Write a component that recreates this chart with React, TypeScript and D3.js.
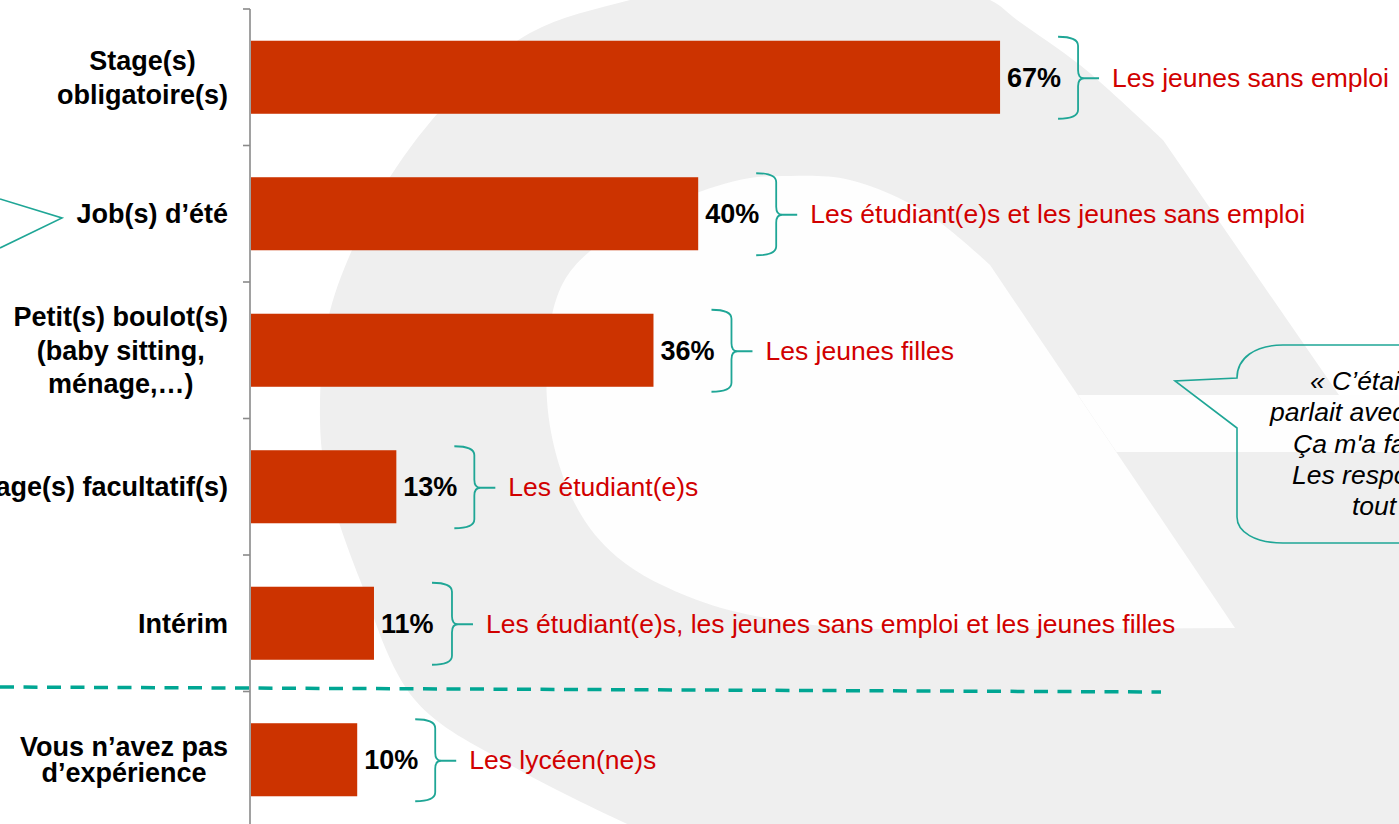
import React, { useEffect, useRef } from "react";
import * as d3 from "d3";

// ---------- data ----------
const categories = [
  "Stage(s) obligatoire(s)",
  "Job(s) d’été",
  "Petit(s) boulot(s) (baby sitting, ménage,…)",
  "Stage(s) facultatif(s)",
  "Intérim",
  "Vous n’avez pas d’expérience",
];
const categoryLines = [
  ["Stage(s)", "obligatoire(s)"],
  ["Job(s) d’été"],
  ["Petit(s) boulot(s)", "(baby sitting,", "ménage,…)"],
  ["Stage(s) facultatif(s)"],
  ["Intérim"],
  ["Vous n’avez pas", "d’expérience"],
];
const values = [67, 40, 36, 13, 11, 9.5];
const valueLabels = ["67%", "40%", "36%", "13%", "11%", "10%"];
const groups = [
  "Les jeunes sans emploi",
  "Les étudiant(e)s et les jeunes sans emploi",
  "Les jeunes filles",
  "Les étudiant(e)s",
  "Les étudiant(e)s, les jeunes sans emploi et les jeunes filles",
  "Les lycéen(ne)s",
];
const quoteLines = ["« C’était", "parlait avec", "Ça m'a fait", "Les responsables", "tout"];

const W = 1399;
const H = 824;
const FONT = "'Liberation Sans', Arial, Helvetica, sans-serif";
const BAR = "#cc3300";
const TEAL = "#1fa696";
const RED = "#d10000";
const GREY = "#efefef";

export default function App() {
  const ref = useRef<SVGSVGElement>(null);

  useEffect(() => {
    const svg = d3.select(ref.current);
    svg.selectAll("*").remove();

    // ---------- watermark logo ----------
    const wm = svg.append("g");
    const cr = d3.line().curve(d3.curveCatmullRom.alpha(0.5));
    const outerPts: [number, number][] = [
      [640, 830], [514, 767], [415, 700], [360, 580], [327, 480], [320, 420],
      [328, 320], [352, 250], [390, 177], [450, 100], [530, 33], [630, 0],
      [720, -20], [810, -28], [900, -20], [990, 0], [1017, 20], [1080, 65],
      [1120, 100], [1163, 140],
    ];
    wm.append("path")
      .attr("d", cr(outerPts) + "L1339,395L1410,395L1410,830Z")
      .attr("fill", GREY);
    const innerPts: [number, number][] = [
      [900, 630], [797, 623], [697, 600], [617, 557], [573, 500], [547, 400],
      [563, 283], [628, 225], [735, 181], [790, 176], [850, 180], [925, 212], [990, 265],
    ];
    wm.append("path")
      .attr("d", cr(innerPts) + "L1235,628Z")
      .attr("fill", "#fefefe");
    wm.append("path")
      .attr("d", "M1078,395L1410,395L1410,452L1116.5,452Z")
      .attr("fill", "#fefefe");

    // ---------- scales ----------
    const y = d3.scaleBand<string>()
      .domain(categories)
      .range([9, 828])
      .paddingInner(0.465)
      .paddingOuter(0.2325);
    const x = d3.scaleLinear().domain([0, 100]).range([251, 1369]);
    const step = y.step();
    const bw = y.bandwidth();

    // ---------- axis ----------
    const axisX = 250;
    const g = svg.append("g");
    g.append("line")
      .attr("x1", axisX).attr("x2", axisX)
      .attr("y1", y.range()[0]).attr("y2", H + 5)
      .attr("stroke", "#8a8a8a").attr("stroke-width", 1.6);
    d3.range(categories.length + 1).forEach((k) => {
      const ty = y.range()[0] + k * step;
      g.append("line")
        .attr("x1", axisX - 7).attr("x2", axisX)
        .attr("y1", ty).attr("y2", ty)
        .attr("stroke", "#8a8a8a").attr("stroke-width", 1.6);
    });

    // ---------- dashed separator ----------
    const sepY = y(categories[5])! - (step - bw) / 2;
    svg.append("line")
      .attr("x1", 0).attr("y1", sepY - 4.5)
      .attr("x2", 1161).attr("y2", sepY + 0.5)
      .attr("stroke", "#00a693").attr("stroke-width", 3.5)
      .attr("stroke-dasharray", "14 9.5");

    // ---------- bars ----------
    svg.append("g").selectAll("rect")
      .data(values)
      .join("rect")
      .attr("x", x(0))
      .attr("y", (_, i) => y(categories[i])!)
      .attr("width", (d) => x(d) - x(0))
      .attr("height", bw)
      .attr("fill", BAR);

    // ---------- category labels ----------
    categoryLines.forEach((lines, i) => {
      const c = y(categories[i])! + bw / 2;
      const ls = i === 5 ? 26 : 33.5;
      const t = svg.append("text")
        .attr("font-family", FONT).attr("font-size", 27).attr("font-weight", "bold")
        .attr("fill", "#000").attr("text-anchor", "middle");
      const spans = lines.map((ln, j) =>
        t.append("tspan")
          .attr("y", c + 9.5 + (j - (lines.length - 1) / 2) * ls)
          .text(ln)
      );
      let maxW = 0;
      spans.forEach((s) => {
        const n = s.node() as SVGTSpanElement;
        maxW = Math.max(maxW, n.getComputedTextLength());
      });
      const cx = 228 - maxW / 2;
      spans.forEach((s) => s.attr("x", cx));
    });

    // ---------- value labels, braces, group notes ----------
    values.forEach((v, i) => {
      const top = y(categories[i])!;
      const c = top + bw / 2;
      const end = x(v);
      svg.append("text")
        .attr("x", end + 7).attr("y", c + 9.5)
        .attr("font-family", FONT).attr("font-size", 27).attr("font-weight", "bold")
        .attr("fill", "#000")
        .text(valueLabels[i]);

      const x0 = end + 58;
      const bt = top - 4;
      const bb = top + bw + 5;
      const mid = c + 1;
      const sx = x0 + 20;
      const tx = x0 + 41;
      const p = d3.path();
      p.moveTo(x0, bt);
      p.quadraticCurveTo(sx, bt, sx, bt + 9);
      p.lineTo(sx, mid - 8);
      p.quadraticCurveTo(sx, mid, sx + 6, mid);
      p.lineTo(tx, mid);
      p.moveTo(sx + 6, mid);
      p.quadraticCurveTo(sx, mid, sx, mid + 8);
      p.lineTo(sx, bb - 9);
      p.quadraticCurveTo(sx, bb, x0, bb);
      svg.append("path")
        .attr("d", p.toString())
        .attr("fill", "none").attr("stroke", TEAL).attr("stroke-width", 1.8);

      svg.append("text")
        .attr("x", x0 + 54).attr("y", c + 9.5)
        .attr("font-family", FONT).attr("font-size", 26.5)
        .attr("fill", RED)
        .text(groups[i]);
    });

    // ---------- left callout pointer ----------
    svg.append("path")
      .attr("d", "M0,199L62,218L0,248")
      .attr("fill", "none").attr("stroke", TEAL).attr("stroke-width", 1.6);

    // ---------- right speech bubble ----------
    const bp = d3.path();
    bp.moveTo(1420, 345);
    bp.lineTo(1283, 345);
    bp.bezierCurveTo(1255, 345, 1237, 358, 1237, 378);
    bp.lineTo(1175, 381);
    bp.lineTo(1237, 428);
    bp.lineTo(1237, 517);
    bp.bezierCurveTo(1237, 532, 1255, 543, 1283, 543);
    bp.lineTo(1420, 543);
    svg.append("path")
      .attr("d", bp.toString())
      .attr("fill", "none").attr("stroke", TEAL).attr("stroke-width", 1.6);

    const qx = [1310, 1270, 1293, 1292, 1352];
    quoteLines.forEach((ln, i) => {
      svg.append("text")
        .attr("x", qx[i]).attr("y", 390 + i * 31.3)
        .attr("font-family", FONT).attr("font-size", 26.5).attr("font-style", "italic")
        .attr("fill", "#000")
        .text(ln);
    });
  }, []);

  return (
    <svg
      ref={ref}
      width={W}
      height={H}
      style={{ position: "absolute", left: 0, top: 0, display: "block", background: "#fff", overflow: "hidden" }}
    />
  );
}
